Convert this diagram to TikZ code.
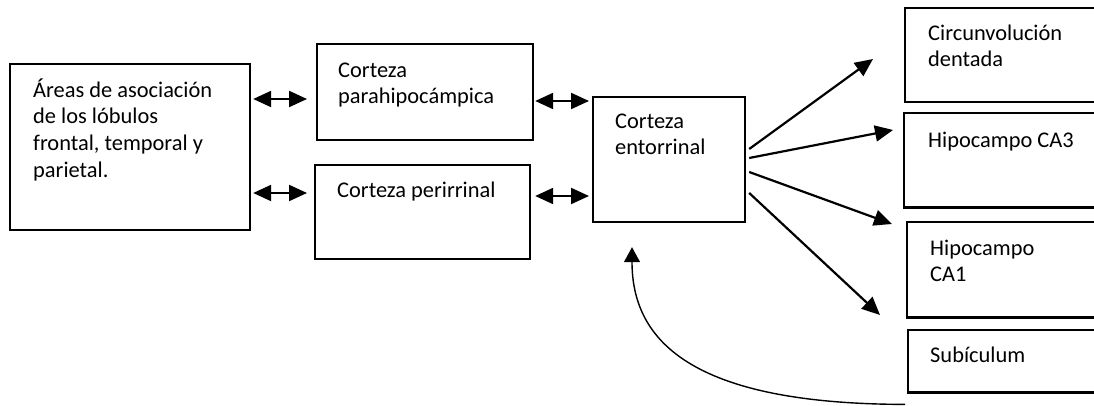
\documentclass[tikz,border=0pt]{standalone}
\usepackage{fontspec}
\setmainfont{Carlito}
\usetikzlibrary{arrows.meta,calc}
\begin{document}
\begin{tikzpicture}[x=1pt,y=-1pt,
  box/.style={draw, line width=2.2pt, inner sep=0pt, anchor=north west},
  openbox/.style={inner sep=0pt, anchor=north west},
  edge line/.style={line width=2.2pt},
  txt/.style={anchor=north west, inner sep=0pt, align=left, font=\fontsize{22.4}{26.7}\selectfont},
  dbl/.style={{Triangle[length=18pt,width=16pt]}-{Triangle[length=18pt,width=16pt]}, line width=2.2pt},
  one/.style={-{Triangle[length=18pt,width=16pt]}, line width=2.2pt},
  back/.style={-{Triangle[length=15pt,width=16pt]}, line width=1.4pt},
]
\useasboundingbox (0,0) rectangle (1094,406);
\clip (0,0) rectangle (1094,406);
% boxes
\node[box, minimum width=240pt, minimum height=166pt] (A) at (9,63) {};
\node[box, minimum width=216pt, minimum height=96pt] (B) at (316,43) {};
\node[box, minimum width=215pt, minimum height=94pt] (C) at (314,164) {};
\node[box, minimum width=152pt, minimum height=125pt] (D) at (592,96) {};
% right-hand boxes, cut off by the picture's right edge
\node[openbox, minimum width=200pt, minimum height=94pt] (E) at (905,8) {};
\node[openbox, minimum width=200pt, minimum height=94pt] (F) at (904,113) {};
\node[openbox, minimum width=200pt, minimum height=95pt] (G) at (907,222) {};
\node[openbox, minimum width=200pt, minimum height=62pt] (H) at (908,330) {};
\foreach \b in {E,F,G,H}
  \draw[edge line] (\b.north east) -- (\b.north west) -- (\b.south west) -- (\b.south east);
% texts
\node[txt] (At) at (33,75) {\rule{0pt}{22pt}Áreas de asociación\\de los lóbulos\\frontal, temporal y\\parietal.};
\node[txt] (Bt) at (338,55) {\rule{0pt}{22pt}Corteza\\parahipocámpica};
\node[txt] (Ct) at (337,175) {\rule{0pt}{22pt}Corteza perirrinal};
\node[txt] (Dt) at (615,106) {\rule{0pt}{22pt}Corteza\\entorrinal};
\node[txt] (Et) at (928,18) {\rule{0pt}{22pt}Circunvolución\\dentada};
\node[txt] (Ft) at (928,125) {\rule{0pt}{22pt}Hipocampo CA3};
\node[txt] (Gt) at (930,233) {\rule{0pt}{22pt}Hipocampo\\CA1};
\node[txt] (Ht) at (930,340) {\rule{0pt}{22pt}Subículum};
% double arrows
\draw[dbl] ($(A.north east)+(2,36)$) -- ($(B.north west)+(-9,56)$);
\draw[dbl] ($(A.north east)+(2,130)$) -- ($(C.north west)+(-7,29)$);
\draw[dbl] ($(B.north east)+(1,58)$) -- ($(D.north west)+(-3,5)$);
\draw[dbl] ($(C.north east)+(4,32)$) -- ($(D.north west)+(-3,100)$);
% outgoing arrows
\coordinate (t1) at (873,59);
\coordinate (t2) at (893,130);
\coordinate (t3) at (892,224);
\coordinate (t4) at (880,315);
\draw[one] ($(D.north east)+(3,53)$) -- (t1);
\draw[one] ($(D.north east)+(3,62)$) -- (t2);
\draw[one] ($(D.north east)+(3,76)$) -- (t3);
\draw[one] ($(D.north east)+(3,97)$) -- (t4);
% feedback curve
\draw[back] ($(H.south west)+(-3,12)$) .. controls (690,404) and (632,340) .. ($(D.south west)+(40,24)$);
\end{tikzpicture}
\end{document}
